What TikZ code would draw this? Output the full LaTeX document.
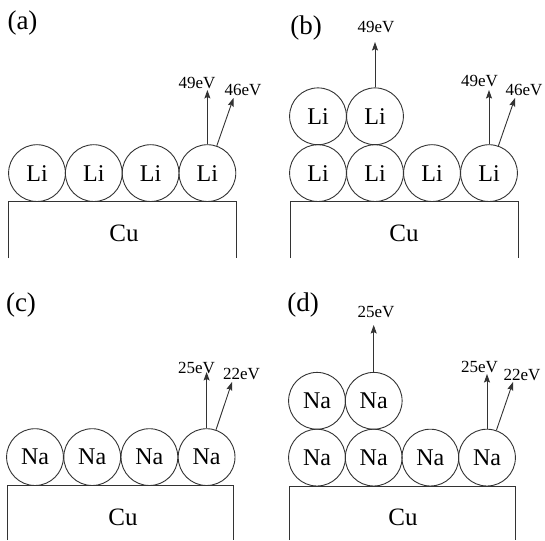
\documentclass[tikz,border=0pt]{standalone}
\usepackage{fontspec}
\setmainfont{Liberation Serif}
\usetikzlibrary{arrows.meta}
\begin{document}
\begin{tikzpicture}[x=1pt,y=-1pt,
  ink/.style={draw=black!80,line width=0.9pt},
  atom/.style={ink,circle,minimum size=56.8pt,inner sep=0pt,font=\fontsize{24}{24}\selectfont},
  cu/.style={inner sep=0pt,font=\fontsize{25}{25}\selectfont},
  ev/.style={inner sep=0pt,anchor=base,font=\fontsize{17}{17}\selectfont},
  panel/.style={inner sep=0pt,anchor=base,font=\fontsize{27}{27}\selectfont},
  emit/.style={ink,-{Stealth[length=8.5pt,width=6pt,inset=1.5pt]}}]
\useasboundingbox[fill=white] (0,0) rectangle (545,540);

% ---------- (a) ----------
\node[panel] (pa) at (22.5,30) {(a)};
\draw[ink] (8.5,258) -- (8.5,201.5) -- (236,201.5) -- (236,258);
\node[cu] (cua) at (124,233) {Cu};
\node[atom] (a1) at (37,173.1) {Li};
\node[atom] (a2) at (93.8,173.1) {Li};
\node[atom] (a3) at (150.6,173.1) {Li};
\node[atom] (a4) at (207.4,173.1) {Li};
\coordinate (a4v) at (207.4,90);
\coordinate (a4d) at (233.5,98);
\draw[emit] (a4.north) -- (a4v);
\draw[emit] (a4.71) -- (a4d);
\node[ev] (la1) at (197,89) {49eV};
\node[ev] (la2) at (243,96) {46eV};

% ---------- (b) ----------
\node[panel] (pb) at (306,35) {(b)};
\draw[ink] (290,258) -- (290,201.5) -- (518,201.5) -- (518,258);
\node[cu] (cub) at (404,233) {Cu};
\node[atom] (b1) at (318,173.1) {Li};
\node[atom] (b2) at (375,173.1) {Li};
\node[atom] (b3) at (432,173.1) {Li};
\node[atom] (b4) at (489,173.1) {Li};
\node[atom] (b5) at (318,116.3) {Li};
\node[atom] (b6) at (375,116.3) {Li};
\coordinate (b6v) at (375,42);
\coordinate (b4v) at (489,90);
\coordinate (b4d) at (515,98);
\draw[emit] (b6.north) -- (b6v);
\draw[emit] (b4.north) -- (b4v);
\draw[emit] (b4.71) -- (b4d);
\node[ev] (lb0) at (376,33) {49eV};
\node[ev] (lb1) at (479.5,87) {49eV};
\node[ev] (lb2) at (524,96) {46eV};

% ---------- (c) ----------
\node[panel] (pc) at (21,311) {(c)};
\draw[ink] (7.3,540) -- (7.3,485.5) -- (233.3,485.5) -- (233.3,540);
\node[cu] (cuc) at (123,517) {Cu};
\node[atom] (c1) at (35,457.1) {Na};
\node[atom] (c2) at (92.2,457.1) {Na};
\node[atom] (c3) at (149.4,457.1) {Na};
\node[atom] (c4) at (206.6,457.1) {Na};
\coordinate (c4v) at (206.6,372);
\coordinate (c4d) at (232,382);
\draw[emit] (c4.north) -- (c4v);
\draw[emit] (c4.71) -- (c4d);
\node[ev] (lc1) at (196.5,373) {25eV};
\node[ev] (lc2) at (241.5,379) {22eV};

% ---------- (d) ----------
\node[panel] (pd) at (303,311) {(d)};
\draw[ink] (289,540) -- (289,486) -- (515,486) -- (515,540);
\node[cu] (cud) at (403,517) {Cu};
\node[atom] (d1) at (317,457.6) {Na};
\node[atom] (d2) at (373.7,457.6) {Na};
\node[atom] (d3) at (430.3,457.6) {Na};
\node[atom] (d4) at (487,457.6) {Na};
\node[atom] (d5) at (317,400.8) {Na};
\node[atom] (d6) at (373.7,400.8) {Na};
\coordinate (d6v) at (373.7,325);
\coordinate (d4v) at (487,374);
\coordinate (d4d) at (513,382);
\draw[emit] (d6.north) -- (d6v);
\draw[emit] (d4.north) -- (d4v);
\draw[emit] (d4.71) -- (d4d);
\node[ev] (ld0) at (376,317) {25eV};
\node[ev] (ld1) at (479.5,372) {25eV};
\node[ev] (ld2) at (522,380) {22eV};
\end{tikzpicture}
\end{document}
